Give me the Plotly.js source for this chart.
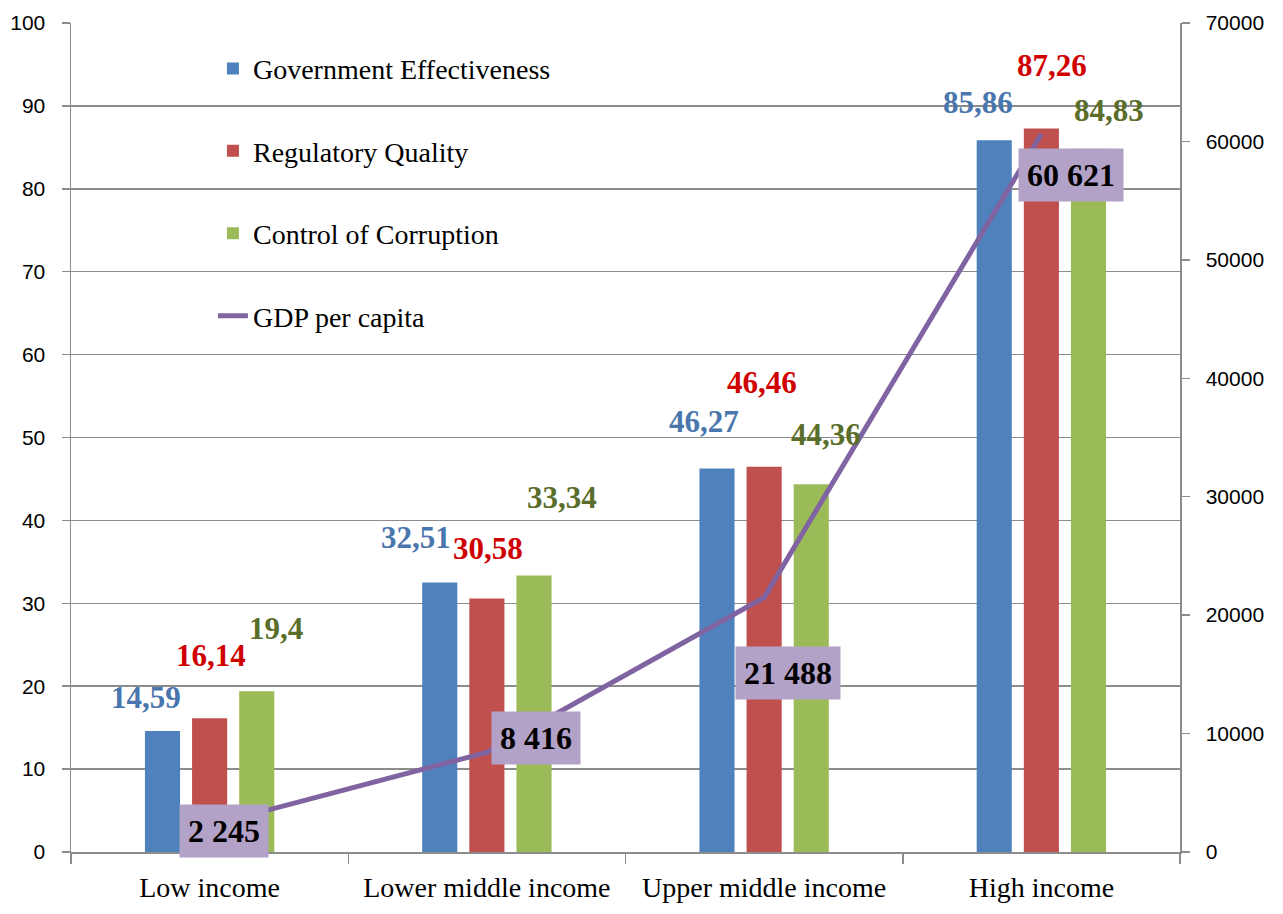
<!DOCTYPE html>
<html>
<head>
<meta charset="utf-8">
<script src="https://cdn.plot.ly/plotly-3.0.1.min.js"></script>
<style>html,body{margin:0;padding:0;background:#fff;}#chart{width:1283px;height:914px;}</style>
</head>
<body>
<div id="chart"></div>
<script>
// ---- data ----
var categories = ["Low income", "Lower middle income", "Upper middle income", "High income"];
var govEffectiveness = [14.59, 32.51, 46.27, 85.86];
var regulatoryQuality = [16.14, 30.58, 46.46, 87.26];
var controlCorruption = [19.4, 33.34, 44.36, 84.83];
var gdpPerCapita = [2245, 8416, 21488, 60621];
var seriesNames = ["Government Effectiveness", "Regulatory Quality", "Control of Corruption", "GDP per capita"];

// ---- styling ----
var FONT = "Liberation Serif, Times New Roman, serif";
var TICKFONT = "Liberation Sans, Arial, sans-serif";
var barColors = ["#4F81BD", "#C0504D", "#9BBB59"];
var labelColors = ["#4A76AE", "#D00000", "#5A6E2A"];
var lineColor = "#8064A2";
var boxColor = "#B3A2C7";
var axisGrey = "#8C8C8C";

// label nudges (pixels, relative to category centre / bar top)
var barLabelNudge = [
  [[-64, 34], [1, 63], [66, 63]],
  [[-71, 45], [1, 50], [75, 78]],
  [[-60, 47], [-2, 84], [62, 50]],
  [[-63, 38], [11, 63], [68, 38]]
];
var gdpLabelNudge = [[14, -6], [49, 14], [24, -75], [30, -41]];

function fmtDec(v) { return String(v).replace('.', ','); }
function fmtThousands(v) { return String(Math.round(v)).replace(/\B(?=(\d{3})+(?!\d))/g, ' '); }

var barSeries = [govEffectiveness, regulatoryQuality, controlCorruption];
var traces = barSeries.map(function (vals, k) {
  return {
    type: 'bar', name: seriesNames[k], x: categories, y: vals,
    marker: {color: barColors[k]}, legendgroup: 'g' + k, hoverinfo: 'skip'
  };
});
traces.push({
  type: 'scatter', mode: 'lines', name: seriesNames[3], x: categories, y: gdpPerCapita,
  yaxis: 'y2', line: {color: lineColor, width: 5}, legendgroup: 'g3', hoverinfo: 'skip'
});

var annotations = [];
barSeries.forEach(function (vals, k) {
  vals.forEach(function (v, i) {
    annotations.push({
      x: categories[i], y: v, xref: 'x', yref: 'y', text: '<b>' + fmtDec(v) + '</b>',
      showarrow: false, xanchor: 'center', yanchor: 'middle',
      xshift: barLabelNudge[i][k][0], yshift: barLabelNudge[i][k][1],
      font: {family: FONT, size: 31, color: labelColors[k]}
    });
  });
});
gdpPerCapita.forEach(function (v, i) {
  annotations.push({
    x: categories[i], y: v, xref: 'x', yref: 'y2', text: '<b>' + fmtThousands(v) + '</b>',
    showarrow: false, xanchor: 'center', yanchor: 'middle',
    xshift: gdpLabelNudge[i][0], yshift: gdpLabelNudge[i][1],
    bgcolor: boxColor, borderpad: 8,
    font: {family: FONT, size: 32, color: '#000'}
  });
});

var layout = {
  width: 1283, height: 914,
  margin: {l: 71, r: 103, t: 23, b: 62},
  paper_bgcolor: '#fff', plot_bgcolor: '#fff',
  font: {family: FONT, color: '#000'},
  barmode: 'group', bargap: 0.49, bargroupgap: 0.255,
  showlegend: true,
  legend: {
    x: 0.128, xanchor: 'left', y: 0.975, yanchor: 'top',
    bgcolor: 'rgba(0,0,0,0)', font: {family: FONT, size: 28, color: '#000'},
    tracegroupgap: 43, traceorder: 'grouped'
  },
  xaxis: {
    type: 'category', showline: true, linecolor: axisGrey, linewidth: 1.5,
    ticks: 'outside', tickson: 'boundaries', ticklen: 10, tickcolor: axisGrey, tickwidth: 1.5,
    ticklabelstandoff: 10, tickfont: {family: FONT, size: 28, color: '#000'},
    showgrid: false, zeroline: false, fixedrange: true
  },
  yaxis: {
    range: [0, 100], dtick: 10, showline: true, linecolor: axisGrey, linewidth: 1.5,
    ticks: 'outside', ticklen: 8, tickcolor: axisGrey, tickwidth: 1.5,
    showgrid: true, gridcolor: axisGrey, gridwidth: 1.5, zeroline: false,
    ticklabelstandoff: 12, tickfont: {family: TICKFONT, size: 21, color: '#000'}, fixedrange: true
  },
  yaxis2: {
    range: [0, 70000], dtick: 10000, overlaying: 'y', side: 'right',
    showline: true, linecolor: axisGrey, linewidth: 1.5,
    ticks: 'outside', ticklen: 8, tickcolor: axisGrey, tickwidth: 1.5,
    showgrid: false, zeroline: false, tickformat: 'd',
    ticklabelstandoff: 12, tickfont: {family: TICKFONT, size: 21, color: '#000'}, fixedrange: true
  },
  annotations: annotations
};

Plotly.newPlot('chart', traces, layout, {displayModeBar: false, staticPlot: true});
</script>
</body>
</html>
